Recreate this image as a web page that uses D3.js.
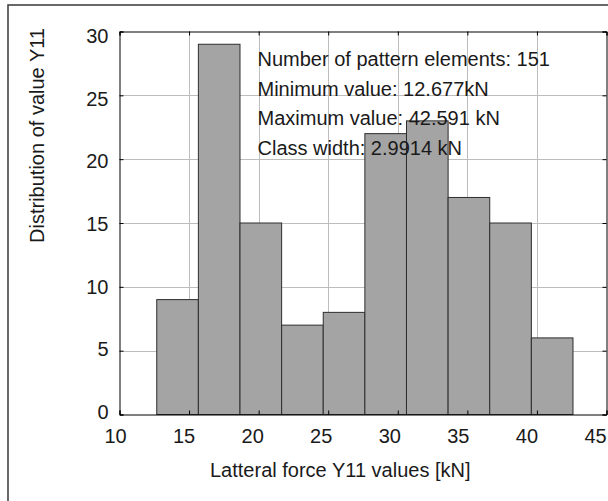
<!DOCTYPE html>
<html>
<head>
<meta charset="utf-8">
<script src="https://cdn.jsdelivr.net/npm/d3@7"></script>
<style>
  html, body { margin: 0; padding: 0; background: #fff; }
  svg text { font-family: "Liberation Sans", Arial, sans-serif; fill: #1a1a1a; }
</style>
</head>
<body>
<svg id="chart" width="608" height="501"></svg>
<script>
// Histogram of lateral force Y11
const binCounts = [9, 29, 15, 7, 8, 22, 23, 17, 15, 6];
const elementCount = 151;
const minValue = 12.677;
const maxValue = 42.591;
const classWidth = 2.9914;
const xTicks = [10, 15, 20, 25, 30, 35, 40, 45];
const yTicks = [0, 5, 10, 15, 20, 25, 30];
const infoLines = [
  `Number of pattern elements: ${elementCount}`,
  `Minimum value: ${minValue}kN`,
  `Maximum value: ${maxValue} kN`,
  `Class width: ${classWidth} kN`
];
const xTitle = "Latteral force Y11 values [kN]";
const yTitle = "Distribution of value Y11";

const bins = binCounts.map((c, i) => ({
  x0: minValue + i * classWidth,
  x1: minValue + (i + 1) * classWidth,
  count: c
}));

const svg = d3.select("#chart");
const plot = { left: 119.5, right: 606.5, top: 31.5, bottom: 414.5 };

const x = d3.scaleLinear().domain([10, 45]).range([plot.left, plot.right]);
const y = d3.scaleLinear().domain([0, 30]).range([plot.bottom, plot.top]);
// tick label placement (labels sit slightly inward of their ticks)
const xLab = d3.scaleLinear().domain([10, 45]).range([115, 595]);
const yLab = d3.scaleLinear().domain([0, 30]).range([411.5, 35.5]);

// outer figure frame
svg.append("rect")
  .attr("x", 8).attr("y", 5)
  .attr("width", 640).attr("height", 540)
  .attr("fill", "none").attr("stroke", "#444").attr("stroke-width", 1.6);

// grid
const grid = svg.append("g").attr("stroke", "#bdbdbd").attr("stroke-width", 1);
grid.selectAll("line.v").data(xTicks.slice(1, -1)).join("line")
  .attr("x1", d => Math.round(x(d)) + 0.5).attr("x2", d => Math.round(x(d)) + 0.5)
  .attr("y1", plot.top).attr("y2", plot.bottom);
grid.selectAll("line.h").data(yTicks.slice(1, -1)).join("line")
  .attr("y1", d => Math.round(y(d)) + 0.5).attr("y2", d => Math.round(y(d)) + 0.5)
  .attr("x1", plot.left).attr("x2", plot.right);

// bars
svg.append("g").selectAll("rect").data(bins).join("rect")
  .attr("x", d => x(d.x0))
  .attr("width", d => x(d.x1) - x(d.x0))
  .attr("y", d => y(d.count))
  .attr("height", d => y(0) - y(d.count))
  .attr("fill", "#a4a4a4")
  .attr("stroke", "#2e2e2e")
  .attr("stroke-width", 1);

// axes with inward ticks
const axB = svg.append("g").attr("transform", `translate(0,${plot.bottom})`)
  .call(d3.axisBottom(x).tickValues(xTicks).tickSize(-4).tickPadding(0).tickFormat(d3.format("d")));
const axT = svg.append("g").attr("transform", `translate(0,${plot.top})`)
  .call(d3.axisTop(x).tickValues(xTicks).tickSize(-4).tickFormat(""));
const axL = svg.append("g").attr("transform", `translate(${plot.left},0)`)
  .call(d3.axisLeft(y).tickValues(yTicks).tickSize(-4).tickPadding(0).tickFormat(d3.format("d")));
const axR = svg.append("g").attr("transform", `translate(${plot.right},0)`)
  .call(d3.axisRight(y).tickValues(yTicks).tickSize(-4).tickFormat(""));

[axB, axT, axL, axR].forEach(g => {
  g.select(".domain").attr("stroke", "#000").attr("stroke-width", 1);
  g.selectAll(".tick line").attr("stroke", "#000");
});

axB.selectAll(".tick text")
  .attr("x", d => xLab(d) - x(d))
  .attr("y", 0).attr("dy", 0)
  .attr("transform", "translate(0,28)")
  .style("font-size", "20px")
  .style("font-family", '"Liberation Sans", Arial, sans-serif')
  .attr("fill", "#1a1a1a");

axL.selectAll(".tick text")
  .attr("x", 108.5 - plot.left)
  .attr("y", d => yLab(d) - y(d))
  .attr("dy", "0.35em")
  .style("font-size", "20px")
  .style("font-family", '"Liberation Sans", Arial, sans-serif')
  .attr("fill", "#1a1a1a");

// axis titles
svg.append("text")
  .attr("x", 210).attr("y", 477)
  .style("font-size", "20px")
  .text(xTitle);

svg.append("text")
  .attr("transform", "translate(44,28) rotate(-90)")
  .attr("text-anchor", "end")
  .style("font-size", "20px")
  .text(yTitle);

// summary text
svg.append("g").selectAll("text").data(infoLines).join("text")
  .attr("x", 257.5)
  .attr("y", (d, i) => 66 + i * 29.5)
  .style("font-size", "20px")
  .text(d => d);
</script>
</body>
</html>
